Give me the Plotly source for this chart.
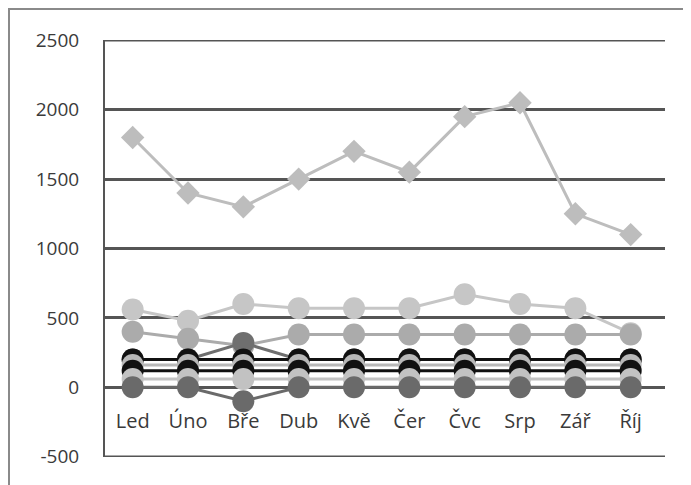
import plotly.graph_objects as go

months = ["Led", "Úno", "Bře", "Dub", "Kvě", "Čer", "Čvc", "Srp", "Zář", "Říj"]

diamond_vals = [1800, 1400, 1300, 1500, 1700, 1550, 1950, 2050, 1250, 1100]
light_vals = [560, 480, 600, 570, 570, 570, 670, 600, 570, 390]
medium_vals = [400, 350, 300, 380, 380, 380, 380, 380, 380, 380]
darkmid_vals = [200, 200, 320, 200, 200, 200, 200, 200, 200, 200]
black_hi_vals = [200, 200, 200, 200, 200, 200, 200, 200, 200, 200]
gray_hi_vals = [160, 160, 160, 160, 160, 160, 160, 160, 160, 160]
black_lo_vals = [120, 120, 120, 120, 120, 120, 120, 120, 120, 120]
gray_lo_vals = [60, 60, 60, 60, 60, 60, 60, 60, 60, 60]
dark_vals = [0, 0, -100, 0, 0, 0, 0, 0, 0, 0]

y_ticks = [-500, 0, 500, 1000, 1500, 2000, 2500]
y_tick_text = ["-500", "0", "500", "1000", "1500", "2000", "2500"]

fig = go.Figure()

def add(vals, color, symbol="circle", size=22, width=3):
    fig.add_trace(go.Scatter(
        x=months, y=vals, mode="lines+markers",
        line=dict(color=color, width=width),
        marker=dict(symbol=symbol, size=size, color=color),
        showlegend=False, hoverinfo="skip",
    ))

add(diamond_vals, "#bdbdbd", symbol="diamond", size=18)
add(light_vals, "#c6c6c6")
add(medium_vals, "#ababab")
add(darkmid_vals, "#6f6f6f")
add(black_hi_vals, "#111111")
add(gray_hi_vals, "#b8b8b8")
add(black_lo_vals, "#111111")
add(gray_lo_vals, "#c2c2c2")
add(dark_vals, "#6a6a6a")

# page body has an 8px offset; plot area in figure pixels
L, R, T, B = 97, 657, 32, 449
W, H = R - L, B - T
def px(x):
    return (x - L) / W
def py(y):
    return (B - y) / H

# outer frame
fig.add_shape(type="rect", xref="paper", yref="paper",
              x0=px(1), x1=px(720), y0=py(520), y1=py(1),
              line=dict(color="#8a8a8a", width=2), layer="below")

# edge gridlines (top and bottom of value range)
for v in (y_ticks[0], y_ticks[-1]):
    fig.add_shape(type="line", xref="paper", yref="y",
                  x0=0, x1=1, y0=v, y1=v,
                  line=dict(color="#555555", width=2.5), layer="below")

fig.update_layout(
    width=691, height=485,
    margin=dict(l=L, r=691 - R, t=T, b=485 - B),
    paper_bgcolor="white", plot_bgcolor="white",
    showlegend=False,
    font=dict(family="Open Sans, Liberation Sans, sans-serif", color="#3a3a3a", size=20),
)

fig.update_yaxes(
    range=[-502, 2502], tickvals=y_ticks, ticktext=y_tick_text,
    showgrid=True, gridcolor="#555555", gridwidth=2.5,
    zeroline=False, automargin=False,
    showline=True, linecolor="#555555", linewidth=2,
    ticks="", ticklabelstandoff=20,
    tickfont=dict(size=19, color="#3a3a3a"),
)

fig.update_xaxes(
    range=[-0.5, 9.62],
    anchor="free", position=1/6, automargin=False,
    showgrid=False, zeroline=False, showline=False,
    ticks="", ticklabelstandoff=19,
    tickfont=dict(size=20, color="#3a3a3a"),
)

fig.write_html("out.html")
